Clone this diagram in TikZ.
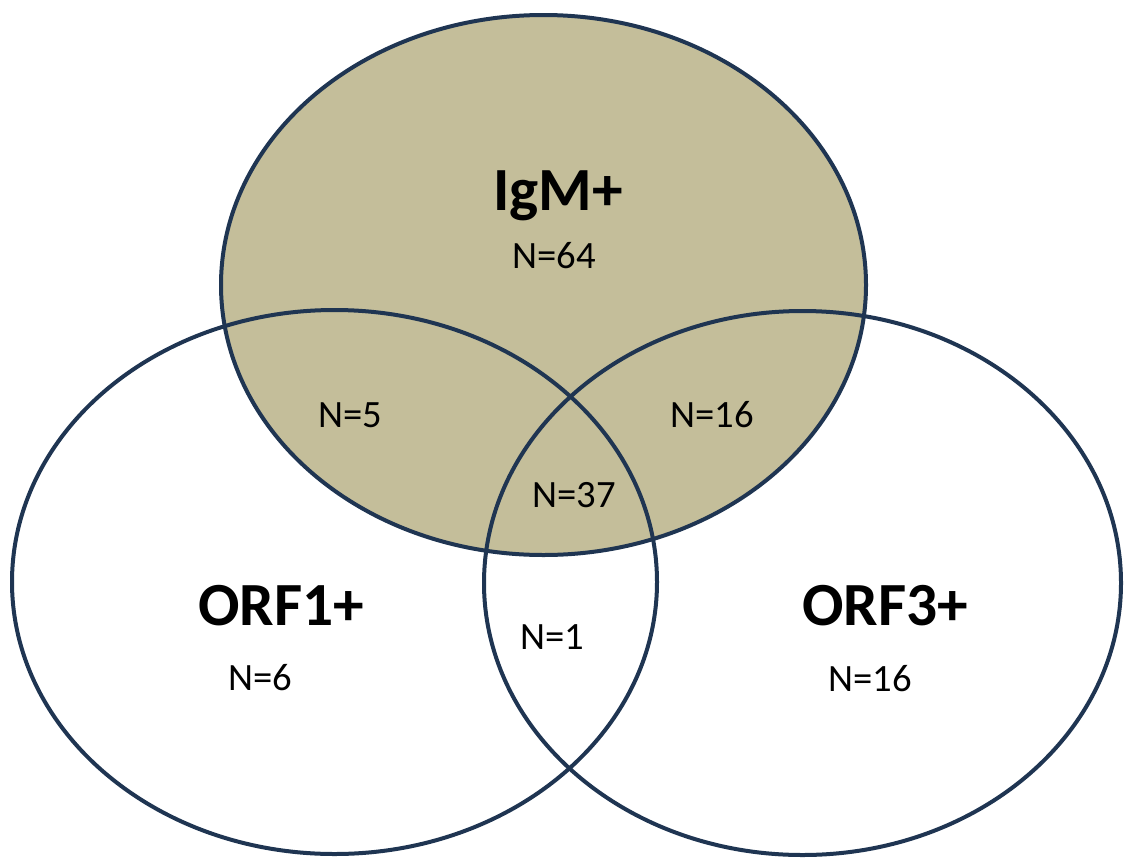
\documentclass[tikz,border=0pt]{standalone}
\usepackage{fontspec}
\setmainfont{Carlito}
\definecolor{setline}{HTML}{1F3552}
\definecolor{igmfill}{HTML}{C4BE9A}
\begin{document}
\begin{tikzpicture}[x=0.75pt,y=-0.75pt,
  setedge/.style={draw=setline,line width=3pt},
  setname/.style={font=\bfseries\fontsize{46}{50}\selectfont,inner sep=0pt,anchor=base},
  count/.style={font=\fontsize{29}{33}\selectfont,inner sep=0pt,anchor=base}]
  \useasboundingbox (0,0) rectangle (1124,857);
  % set centres
  \coordinate (cIgM) at (543.5,285);
  \coordinate (cORF1) at (334.5,582);
  \coordinate (cORF3) at (802.5,583);
  % shaded IgM set, then all outlines on top
  \fill[igmfill] (cIgM) ellipse [x radius=322.5, y radius=270];
  \path[setedge] (cORF1) ellipse [x radius=322.5, y radius=272];
  \path[setedge] (cORF3) ellipse [x radius=318.5, y radius=272];
  \path[setedge] (cIgM) ellipse [x radius=322.5, y radius=270];
  % set names
  \node[setname] (tIgM) at (558,210) {IgM+};
  \node[setname] (tORF1) at (281,625) {ORF1+};
  \node[setname] (tORF3) at (885,625) {ORF3+};
  % region counts
  \node[count] (n64) at (554,268) {N=64};
  \node[count] (n5) at (350,427) {N=5};
  \node[count] (n16a) at (712,427) {N=16};
  \node[count] (n37) at (574,507) {N=37};
  \node[count] (n1) at (552,649) {N=1};
  \node[count] (n6) at (260,690) {N=6};
  \node[count] (n16b) at (870,691) {N=16};
\end{tikzpicture}
\end{document}
